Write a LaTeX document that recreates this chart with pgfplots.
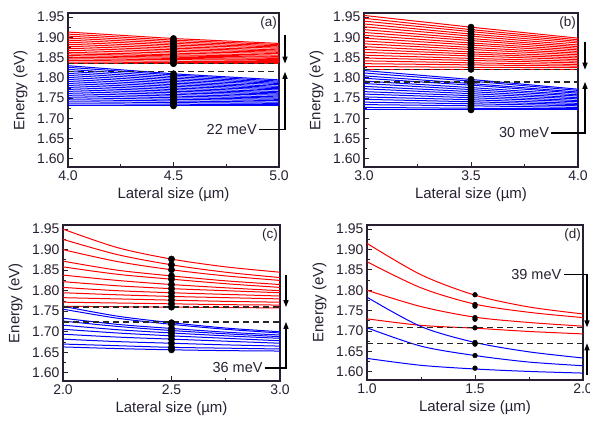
\documentclass[border=0pt]{standalone}
\usepackage{pgfplots}
\pgfplotsset{compat=1.18}
\usepackage{pgfplotstable}
\usepackage{fontspec}
\setmainfont{Liberation Sans}
\usetikzlibrary{arrows.meta}

\definecolor{txt}{RGB}{40,32,50}
\definecolor{lvred}{RGB}{255,0,0}
\definecolor{lvblue}{RGB}{0,0,255}

% rows = lateral size, columns = levels
\pgfplotstableread[header=false]{
4.0 1.835 1.839 1.843 1.847 1.851 1.855 1.859 1.863 1.868 1.873 1.878 1.883 1.888 1.893 1.898 1.903 1.908 1.913
4.5 1.835 1.838 1.841 1.845 1.848 1.851 1.854 1.857 1.861 1.865 1.869 1.873 1.877 1.881 1.885 1.889 1.893 1.897
5.0 1.835 1.838 1.840 1.843 1.845 1.848 1.851 1.853 1.856 1.860 1.863 1.866 1.869 1.873 1.876 1.879 1.882 1.885
}\redA
\pgfplotstableread[header=false]{
4.0 1.731 1.736 1.741 1.746 1.751 1.756 1.761 1.766 1.771 1.776 1.781 1.786 1.791 1.796 1.801 1.806 1.811 1.816 1.821 1.826 1.830
4.5 1.731 1.735 1.739 1.743 1.747 1.751 1.755 1.759 1.763 1.767 1.771 1.775 1.779 1.783 1.787 1.791 1.795 1.799 1.803 1.807 1.810
5.0 1.731 1.734 1.737 1.740 1.744 1.747 1.750 1.753 1.757 1.760 1.763 1.766 1.770 1.773 1.776 1.779 1.783 1.786 1.789 1.792 1.795
}\blueA
\pgfplotstableread[header=false]{
3.0 1.821 1.828 1.835 1.842 1.849 1.856 1.863 1.870 1.877 1.884 1.891 1.898 1.905 1.912 1.919 1.926 1.933 1.940 1.947 1.954
3.5 1.821 1.826 1.832 1.837 1.843 1.848 1.854 1.859 1.864 1.870 1.875 1.881 1.886 1.892 1.897 1.903 1.908 1.914 1.919 1.925
4.0 1.821 1.825 1.829 1.833 1.837 1.841 1.845 1.849 1.853 1.857 1.861 1.865 1.869 1.873 1.877 1.881 1.886 1.890 1.894 1.898
}\redB
\pgfplotstableread[header=false]{
3.0 1.721 1.727 1.734 1.740 1.747 1.753 1.760 1.766 1.773 1.779 1.786 1.792 1.799 1.805 1.812 1.818
3.5 1.721 1.725 1.731 1.736 1.741 1.746 1.751 1.756 1.761 1.766 1.771 1.776 1.782 1.786 1.792 1.796
4.0 1.721 1.724 1.727 1.731 1.734 1.737 1.741 1.744 1.748 1.751 1.755 1.758 1.762 1.765 1.769 1.772
}\blueB
\pgfplotstableread[header=false]{
2.00 1.950 1.925 1.900 1.872 1.858 1.838 1.822 1.808 1.795 1.783 1.772 1.762
2.25 1.905 1.888 1.871 1.850 1.840 1.825 1.812 1.800 1.790 1.780 1.770 1.761
2.50 1.877 1.863 1.851 1.836 1.828 1.815 1.805 1.795 1.786 1.777 1.768 1.760
2.75 1.858 1.845 1.836 1.824 1.817 1.807 1.800 1.791 1.783 1.774 1.766 1.759
3.00 1.845 1.832 1.825 1.815 1.808 1.800 1.795 1.787 1.780 1.772 1.765 1.758
}\redC
\pgfplotstableread[header=false]{
2.00 1.762 1.755 1.733 1.726 1.716 1.706 1.694 1.682 1.670 1.663
2.25 1.738 1.733 1.718 1.713 1.705 1.697 1.687 1.676 1.666 1.659
2.50 1.722 1.718 1.708 1.703 1.697 1.690 1.682 1.672 1.662 1.656
2.75 1.709 1.706 1.699 1.695 1.690 1.684 1.677 1.668 1.660 1.654
3.00 1.700 1.697 1.692 1.688 1.684 1.678 1.672 1.665 1.658 1.653
}\blueC
\pgfplotstableread[header=false]{
1.00 1.915 1.870 1.800 1.730
1.25 1.838 1.806 1.760 1.714
1.50 1.788 1.766 1.734 1.707
1.75 1.759 1.746 1.721 1.699
2.00 1.742 1.733 1.712 1.693
}\redD
\pgfplotstableread[header=false]{
1.00 1.783 1.708 1.633
1.25 1.711 1.663 1.616
1.50 1.672 1.640 1.607
1.75 1.649 1.624 1.601
2.00 1.634 1.615 1.597
}\blueD

\tikzset{
  lr/.style={lvred, line width=1bp},
  lb/.style={lvblue, line width=1bp},
  refdash/.style={black!85, line width=1.3bp, dash pattern=on 6bp off 4bp},
  arr/.style={-{Triangle[length=7bp,width=5bp]}, line width=1.3bp, black},
  ann/.style={font=\fontsize{14.5bp}{16bp}\selectfont, text=txt, inner sep=1bp},
  tag/.style={font=\fontsize{13.5bp}{15bp}\selectfont, text=txt, inner sep=2bp, anchor=north east, yshift=-2bp},
  dot/.style={only marks, mark=*, mark size=3.2bp, black},
}

\pgfplotsset{
  panel/.style={
    scale only axis, clip=false,
    ymin=1.58, ymax=1.96,
    ytick={1.60,1.65,1.70,1.75,1.80,1.85,1.90,1.95},
    minor x tick num=1, minor y tick num=1,
    tick align=inside, xtick pos=left, ytick pos=left,
    major tick length=5bp, minor tick length=3bp,
    axis line style={line width=1.2bp, txt},
    every tick/.style={txt, line width=0.9bp},
    tick label style={font=\fontsize{14bp}{16bp}\selectfont, text=txt},
    label style={font=\fontsize{15bp}{17bp}\selectfont, text=txt},
    yticklabel style={/pgf/number format/.cd, fixed, fixed zerofill, precision=2},
    xticklabel style={/pgf/number format/.cd, fixed, fixed zerofill, precision=1},
    /pgf/number format/assume math mode=true,
    xlabel={Lateral size (µm)}, ylabel={Energy (eV)},
    ylabel shift=3bp,
  },
}

\begin{document}
\begin{tikzpicture}

% (a)
\begin{axis}[panel, at={(68bp,-167bp)}, anchor=south west, width=211bp, height=154bp,
  xmin=4, xmax=5, xtick={4,4.5,5}]
\pgfplotsinvokeforeach{1,...,18}{\addplot[lr] table[x index=0, y index=#1]{\redA};}
\pgfplotsinvokeforeach{1,...,21}{\addplot[lb] table[x index=0, y index=#1]{\blueA};}
\addplot[refdash] coordinates {(4,1.835) (5,1.835)};
\addplot[refdash] coordinates {(4,1.815) (5,1.815)};
\pgfplotsinvokeforeach{1,...,18}{\addplot[dot, mark phase=2, mark repeat=3] table[x index=0, y index=#1]{\redA};}
\pgfplotsinvokeforeach{1,...,21}{\addplot[dot, mark phase=2, mark repeat=3] table[x index=0, y index=#1]{\blueA};}
\draw[arr] ([xshift=6bp]axis cs:5,1.905) -- ([xshift=6bp]axis cs:5,1.835);
\draw[arr] (axis cs:4.905,1.672) -| ([xshift=6bp]axis cs:5,1.815);
\node[ann, anchor=east] at (axis cs:4.9,1.672) {22 meV};
\node[tag] at (rel axis cs:1,1) {(a)};
\end{axis}

% (b)
\begin{axis}[panel, at={(364bp,-167bp)}, anchor=south west, width=214bp, height=154bp,
  xmin=3, xmax=4, xtick={3,3.5,4}]
\pgfplotsinvokeforeach{1,...,20}{\addplot[lr] table[x index=0, y index=#1]{\redB};}
\pgfplotsinvokeforeach{1,...,16}{\addplot[lb] table[x index=0, y index=#1]{\blueB};}
\addplot[refdash] coordinates {(3,1.820) (4,1.820)};
\addplot[refdash] coordinates {(3,1.790) (4,1.790)};
\pgfplotsinvokeforeach{1,...,20}{\addplot[dot, mark phase=2, mark repeat=3] table[x index=0, y index=#1]{\redB};}
\pgfplotsinvokeforeach{1,...,16}{\addplot[dot, mark phase=2, mark repeat=3] table[x index=0, y index=#1]{\blueB};}
\draw[arr] ([xshift=7bp]axis cs:4,1.889) -- ([xshift=7bp]axis cs:4,1.820);
\draw[arr] (axis cs:3.875,1.664) -| ([xshift=7bp]axis cs:4,1.790);
\node[ann, anchor=east] at (axis cs:3.87,1.664) {30 meV};
\node[tag] at (rel axis cs:1,1) {(b)};
\end{axis}

% (c)
\begin{axis}[panel, at={(63bp,-381bp)}, anchor=south west, width=217bp, height=156bp,
  xmin=2, xmax=3, xtick={2,2.5,3}]
\pgfplotsinvokeforeach{1,...,12}{\addplot[lr, smooth] table[x index=0, y index=#1]{\redC};}
\pgfplotsinvokeforeach{1,...,10}{\addplot[lb, smooth] table[x index=0, y index=#1]{\blueC};}
\addplot[refdash] coordinates {(2,1.760) (3,1.760)};
\addplot[refdash] coordinates {(2,1.724) (3,1.724)};
\pgfplotsinvokeforeach{1,...,12}{\addplot[dot, mark phase=3, mark repeat=5] table[x index=0, y index=#1]{\redC};}
\pgfplotsinvokeforeach{1,...,10}{\addplot[dot, mark phase=3, mark repeat=5] table[x index=0, y index=#1]{\blueC};}
\draw[arr] ([xshift=6bp]axis cs:3,1.838) -- ([xshift=6bp]axis cs:3,1.760);
\draw[arr] (axis cs:2.93,1.612) -| ([xshift=6bp]axis cs:3,1.724);
\node[ann, anchor=east] at (axis cs:2.925,1.612) {36 meV};
\node[tag] at (rel axis cs:1,1) {(c)};
\end{axis}

% (d)
\begin{axis}[panel, at={(367bp,-380bp)}, anchor=south west, width=216bp, height=155bp,
  xmin=1, xmax=2, xtick={1,1.5,2}]
\pgfplotsinvokeforeach{1,...,4}{\addplot[lr, smooth] table[x index=0, y index=#1]{\redD};}
\pgfplotsinvokeforeach{1,...,3}{\addplot[lb, smooth] table[x index=0, y index=#1]{\blueD};}
\addplot[refdash] coordinates {(1,1.709) (2,1.709)};
\addplot[refdash] coordinates {(1,1.670) (2,1.670)};
\addplot[dot, mark size=2.4bp] coordinates {
  (1.5,1.789) (1.5,1.765) (1.5,1.761) (1.5,1.733) (1.5,1.729)
  (1.5,1.708) (1.5,1.672) (1.5,1.668) (1.5,1.640) (1.5,1.609)};
\draw[arr] (axis cs:1.91,1.838) -| ([xshift=4bp]axis cs:2,1.709);
\draw[arr] ([xshift=4bp]axis cs:2,1.592) -- ([xshift=4bp]axis cs:2,1.670);
\node[ann, anchor=east] at (axis cs:1.905,1.838) {39 meV};
\node[tag] at (rel axis cs:1,1) {(d)};
\end{axis}

\pgfresetboundingbox
\path (0,0) rectangle (590bp,-421bp);
\end{tikzpicture}
\end{document}
